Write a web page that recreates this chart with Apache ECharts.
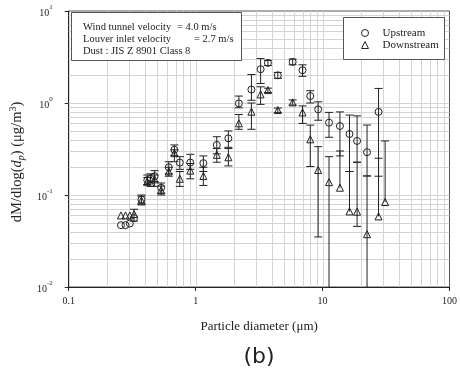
<!DOCTYPE html>
<html>
<head>
<meta charset="utf-8">
<script src="https://cdn.jsdelivr.net/npm/echarts@6/dist/echarts.min.js"></script>
<style>html,body{margin:0;padding:0;background:#fff;}#c{width:460px;height:372px;}</style>
</head>
<body>
<div id="c"></div>
<script>
// Particle diameters (µm)
const diameters = [0.258, 0.28, 0.303, 0.327, 0.374, 0.416, 0.44, 0.475, 0.535, 0.614, 0.68, 0.75, 0.907, 1.15, 1.467, 1.81, 2.19, 2.75, 3.25, 3.71, 4.44, 5.81, 6.95, 8.0, 9.23, 11.24, 13.7, 16.3, 18.7, 22.4, 27.6, 31.1];
// dM/dlog(dp) upstream / downstream (µg/m3)
const upstream = [0.047, 0.047, 0.049, 0.056, 0.089, 0.145, 0.15, 0.16, 0.12, 0.2, 0.31, 0.225, 0.225, 0.222, 0.35, 0.413, 0.99, 1.40, 2.33, 2.73, 2.0, 2.80, 2.27, 1.19, 0.853, 0.611, 0.562, 0.46, 0.387, 0.292, 0.80, null];
const downstream = [0.06, 0.06, 0.06, 0.062, 0.087, 0.14, 0.135, 0.148, 0.113, 0.18, 0.285, 0.15, 0.184, 0.161, 0.273, 0.257, 0.601, 0.804, 1.24, 1.38, 0.838, 1.016, 0.79, 0.403, 0.187, 0.138, 0.12, 0.0663, 0.0658, 0.0375, 0.0585, 0.0838];
// error bar ends (null = no bar on that side); 0.005 = runs below the axis
const upLow  = [null, null, null, null, 0.08, 0.13, 0.135, 0.14, 0.105, 0.17, 0.27, 0.19, 0.19, 0.18, 0.28, 0.33, 0.887, 1.07, 1.63, 2.55, 1.85, 2.6, 1.95, 1.0, 0.65, 0.424, 0.266, 0.18, 0.227, 0.161, 0.16, null];
const upHigh = [null, null, null, null, 0.1, 0.165, 0.17, 0.184, 0.135, 0.23, 0.35, 0.261, 0.277, 0.266, 0.43, 0.497, 1.19, 2.04, 3.04, 2.9, 2.15, 3.0, 2.6, 1.36, 1.03, 0.79, 0.80, 0.739, 0.725, 0.576, 1.44, null];
const downLow  = [null, null, null, 0.052, 0.078, 0.128, null, 0.124, 0.1, 0.16, 0.23, 0.124, 0.15, 0.127, 0.227, 0.207, 0.518, 0.518, 0.966, 1.3, 0.79, 0.95, 0.6, 0.204, 0.035, 0.005, null, null, 0.0456, 0.005, null, null];
const downHigh = [null, null, null, 0.07, 0.097, 0.155, null, 0.165, 0.125, 0.2, 0.31, 0.18, 0.22, 0.2, 0.32, 0.32, 0.75, 1.0, 1.5, 1.45, 0.88, 1.08, 0.93, 0.575, 0.335, 0.261, 0.301, 0.18, 0.227, 0.161, 0.251, 0.387];
// axis decades / grid values
const xDecades = [0.1, 1, 10];
const yDecades = [0.01, 0.1, 1];
const gridMultipliers = [1, 2, 3, 4, 5, 6, 7, 8, 9];

const SERIF = "'Liberation Serif', 'Times New Roman', serif";

function gridValues(decades) {
  const out = [];
  decades.forEach(d => gridMultipliers.forEach(m => { const v = +(d * m).toPrecision(6); if (m !== 1 || d !== decades[0]) out.push(v); }));
  return out;
}
const xGrid = gridValues(xDecades);
const yGrid = gridValues(yDecades);

function pointData(vals) {
  return diameters.map((d, i) => vals[i] == null ? null : [d, vals[i]]).filter(p => p);
}
function errData(vals, lo, hi) {
  const out = [];
  diameters.forEach((d, i) => {
    if (lo[i] == null && hi[i] == null) return;
    const v = vals[i];
    out.push([d, lo[i] == null ? v : lo[i], hi[i] == null ? v : hi[i], lo[i] == null ? 0 : 1, hi[i] == null ? 0 : 1]);
  });
  return out;
}

function renderErr(params, api) {
  const cs = params.coordSys;
  const x = api.value(0);
  const pLo = api.coord([x, api.value(1)]);
  const pHi = api.coord([x, api.value(2)]);
  const bottom = cs.y + cs.height;
  let yLo = pLo[1], capLo = api.value(3) === 1;
  if (yLo > bottom) { yLo = bottom; capLo = false; }
  const px = pLo[0];
  const st = { stroke: '#222', lineWidth: 1 };
  const children = [{ type: 'line', shape: { x1: px, y1: pHi[1], x2: px, y2: yLo }, style: st }];
  const w = 4;
  if (api.value(4) === 1) children.push({ type: 'line', shape: { x1: px - w, y1: pHi[1], x2: px + w, y2: pHi[1] }, style: st });
  if (capLo) children.push({ type: 'line', shape: { x1: px - w, y1: yLo, x2: px + w, y2: yLo }, style: st });
  return { type: 'group', children };
}

const chart = echarts.init(document.getElementById('c'), null, { renderer: 'canvas' });
const option = {
  animation: false,
  backgroundColor: '#fff',
  grid: { left: 67, right: 9, top: 11, bottom: 85, show: true, borderColor: '#555', borderWidth: 1, backgroundColor: '#fff' },
  xAxis: {
    type: 'log', logBase: 10, min: 0.1, max: 100,
    axisLine: { lineStyle: { color: '#222', width: 1 } },
    axisTick: { length: 4, lineStyle: { color: '#222' } },
    axisLabel: { fontFamily: SERIF, fontSize: 10, color: '#222', margin: 9, formatter: v => String(v) },
    splitLine: { show: false },
    name: 'Particle diameter (\u03bcm)', nameLocation: 'middle', nameGap: 33,
    nameTextStyle: { fontFamily: SERIF, fontSize: 13, color: '#222' }
  },
  yAxis: {
    type: 'log', logBase: 10, min: 0.01, max: 10,
    axisLine: { lineStyle: { color: '#222', width: 1 } },
    axisTick: { length: 4, lineStyle: { color: '#222' } },
    axisLabel: {
      margin: 16, color: '#222',
      formatter: v => '{b|10}{s|' + Math.round(Math.log10(v)) + '}',
      rich: {
        b: { fontFamily: SERIF, fontSize: 10, lineHeight: 14, color: '#222', verticalAlign: 'bottom' },
        s: { fontFamily: SERIF, fontSize: 7, lineHeight: 7, color: '#222', verticalAlign: 'top' }
      }
    },
    splitLine: { show: false },
    name: '{a|dM/dlog(}{i|d}{sub|p}{a|) (\u03bcg/m}{sup|3}{a|)}',
    nameLocation: 'middle', nameRotate: 90, nameGap: 29,
    nameTextStyle: {
      padding: [10, 26, 0, 0],
      rich: {
        a: { fontFamily: SERIF, fontSize: 14.5, lineHeight: 18, color: '#222', verticalAlign: 'middle' },
        i: { fontFamily: SERIF, fontSize: 14.5, lineHeight: 18, color: '#222', fontStyle: 'italic', verticalAlign: 'middle' },
        sub: { fontFamily: SERIF, fontSize: 10, lineHeight: 9, color: '#222', fontStyle: 'italic', verticalAlign: 'bottom' },
        sup: { fontFamily: SERIF, fontSize: 10, lineHeight: 9, color: '#222', verticalAlign: 'top' }
      }
    }
  },
  legend: {
    data: ['Upstream', 'Downstream'], orient: 'vertical', left: 356, top: 22, itemGap: 0,
    itemWidth: 7, itemHeight: 7, z: 6, selectedMode: false,
    itemStyle: { color: 'rgba(255,255,255,0)', borderColor: '#222', borderWidth: 1 },
    textStyle: { fontFamily: SERIF, fontSize: 11, color: '#222', lineHeight: 12, padding: [0, 0, 0, 9] }
  },
  graphic: [
    { type: 'rect', z: 4, shape: { x: 71.5, y: 12.5, width: 170, height: 48 }, style: { fill: '#fff', stroke: '#555', lineWidth: 1 } },
    { type: 'text', z: 5, x: 83, y: 27, style: { text: 'Wind tunnel velocity', font: '10.5px ' + SERIF, fill: '#222', verticalAlign: 'middle' } },
    { type: 'text', z: 5, x: 177, y: 27, style: { text: '= 4.0 m/s', font: '10.5px ' + SERIF, fill: '#222', verticalAlign: 'middle' } },
    { type: 'text', z: 5, x: 83, y: 39, style: { text: 'Louver inlet velocity', font: '10.5px ' + SERIF, fill: '#222', verticalAlign: 'middle' } },
    { type: 'text', z: 5, x: 194, y: 39, style: { text: '= 2.7 m/s', font: '10.5px ' + SERIF, fill: '#222', verticalAlign: 'middle' } },
    { type: 'text', z: 5, x: 83, y: 51, style: { text: 'Dust : JIS Z 8901 Class 8', font: '10.5px ' + SERIF, fill: '#222', verticalAlign: 'middle' } },
    { type: 'rect', z: 4, shape: { x: 343.5, y: 17.5, width: 101, height: 42 }, style: { fill: '#fff', stroke: '#555', lineWidth: 1 } },
    { type: 'text', z: 5, x: 259, y: 357, style: { text: '(b)', font: '22px "DejaVu Sans", sans-serif', fill: '#222', align: 'center', verticalAlign: 'middle' } }
  ],
  series: [
    {
      type: 'custom', name: 'xgrid', z: 1, silent: true,
      data: xGrid.map(v => [v, 1]),
      renderItem: (params, api) => {
        const cs = params.coordSys; const p = api.coord([api.value(0), 1]);
        return { type: 'line', shape: { x1: Math.round(p[0]) + 0.5, y1: cs.y, x2: Math.round(p[0]) + 0.5, y2: cs.y + cs.height }, style: { stroke: '#d4d4d4', lineWidth: 1 } };
      }
    },
    {
      type: 'custom', name: 'ygrid', z: 1, silent: true,
      data: yGrid.map(v => [1, v]),
      renderItem: (params, api) => {
        const cs = params.coordSys; const p = api.coord([1, api.value(1)]);
        return { type: 'line', shape: { x1: cs.x, y1: Math.round(p[1]) + 0.5, x2: cs.x + cs.width, y2: Math.round(p[1]) + 0.5 }, style: { stroke: '#d4d4d4', lineWidth: 1 } };
      }
    },
    {
      type: 'scatter', name: 'Upstream', z: 3, symbol: 'circle', symbolSize: 7,
      itemStyle: { color: 'rgba(255,255,255,0)', borderColor: '#222', borderWidth: 1, opacity: 1 },
      data: pointData(upstream)
    },
    {
      type: 'scatter', name: 'Downstream', z: 3, symbol: 'triangle', symbolSize: 7,
      itemStyle: { color: 'rgba(255,255,255,0)', borderColor: '#222', borderWidth: 1, opacity: 1 },
      data: pointData(downstream)
    },
    { type: 'custom', name: 'upErr', z: 3, silent: true, data: errData(upstream, upLow, upHigh), renderItem: renderErr },
    { type: 'custom', name: 'downErr', z: 3, silent: true, data: errData(downstream, downLow, downHigh), renderItem: renderErr }
  ]
};
chart.setOption(option);
</script>
</body>
</html>
